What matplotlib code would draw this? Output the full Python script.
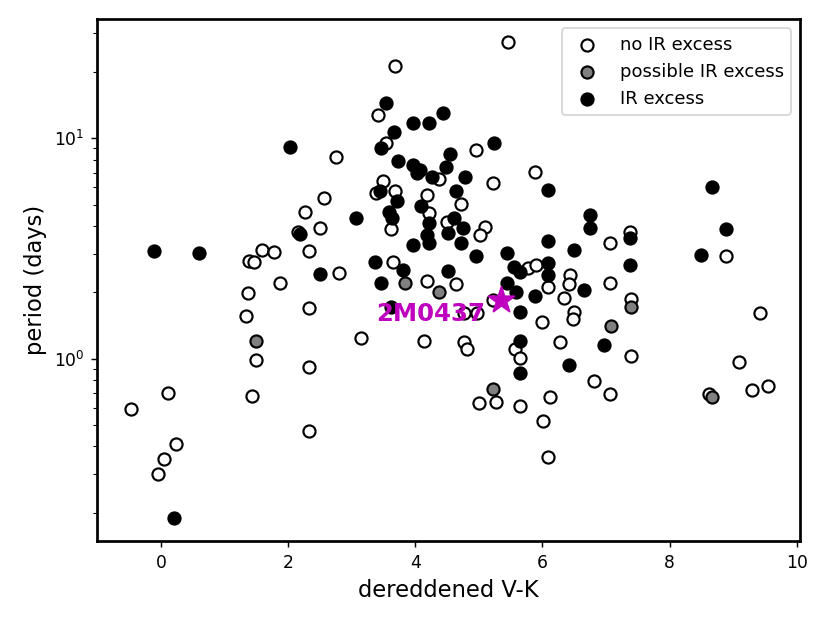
import numpy as np
import matplotlib
matplotlib.use('Agg')
import matplotlib.pyplot as plt

# ================================================================
# data
# ================================================================
# no IR excess (open circles)
noir_vk = [-0.47, 0.11, 0.24, 0.05, -0.04, 1.38, 1.46, 1.59, 1.78, 1.87,
           1.37, 1.34, 1.50, 1.43, 2.33, 2.33, 2.33, 3.14, 4.13, 4.18,
           4.64, 2.80, 3.65, 4.76, 4.82, 3.50, 3.39, 3.68, 3.62, 2.56,
           2.27, 2.50, 2.15, 2.33, 2.76, 3.68, 3.41, 3.54, 4.37, 4.95,
           4.19, 4.22, 4.72, 4.50, 5.10, 5.01, 5.78, 5.90, 6.08, 6.44,
           6.41, 6.34, 6.50, 6.48, 5.22, 4.76, 4.97, 5.99, 6.28, 5.57,
           5.65, 7.06, 7.39, 9.42, 7.39, 9.09, 6.81, 7.06, 8.62, 9.29,
           9.55, 5.00, 5.27, 5.65, 6.12, 6.01, 6.08, 5.46, 5.88, 5.23,
           7.06, 7.38, 8.88]
noir_per = [0.59, 0.70, 0.41, 0.35, 0.30, 2.77, 2.75, 3.13, 3.05, 2.20,
            1.98, 1.57, 0.99, 0.68, 1.70, 0.92, 0.47, 1.24, 1.20, 2.26,
            2.18, 2.44, 2.74, 1.19, 1.11, 6.40, 5.63, 5.77, 3.88, 5.34,
            4.62, 3.93, 3.77, 3.09, 8.20, 21.4, 12.8, 9.55, 6.51, 8.90,
            5.53, 4.57, 5.03, 4.19, 3.97, 3.64, 2.57, 2.66, 2.11, 2.40,
            2.18, 1.88, 1.63, 1.52, 1.85, 1.61, 1.62, 1.47, 1.19, 1.11,
            1.01, 2.21, 1.87, 1.62, 1.03, 0.97, 0.79, 0.69, 0.69, 0.72,
            0.75, 0.63, 0.64, 0.61, 0.67, 0.52, 0.36, 27.3, 7.05, 6.29,
            3.36, 3.77, 2.92]

# possible IR excess (grey)
poss_vk = [1.50, 3.84, 4.37, 5.22, 7.07, 7.39, 8.67]
poss_per = [1.20, 2.20, 2.01, 0.73, 1.41, 1.72, 0.67]

# IR excess (filled)
ir_vk = [0.20, -0.11, 0.60, 3.46, 3.62, 3.36, 3.80, 4.51, 3.07, 3.45,
         3.71, 3.58, 3.63, 2.18, 2.50, 2.03, 3.54, 3.96, 4.22, 4.44,
         3.67, 3.46, 3.73, 3.97, 4.02, 4.08, 4.26, 4.54, 4.48, 4.78,
         4.09, 4.64, 4.61, 4.21, 4.18, 4.21, 3.96, 4.51, 4.75, 4.72,
         4.96, 5.44, 5.56, 5.65, 6.08, 6.08, 6.08, 6.50, 6.65, 6.75,
         6.74, 5.44, 5.59, 5.88, 5.64, 5.65, 6.97, 6.41, 5.65, 5.24,
         6.08, 7.38, 7.38, 8.67, 8.88, 8.50]
ir_per = [0.19, 3.09, 3.03, 2.20, 1.72, 2.74, 2.53, 2.50, 4.34, 5.77,
          5.20, 4.65, 4.34, 3.67, 2.42, 9.16, 14.5, 11.7, 11.8, 13.1,
          10.7, 9.00, 7.89, 7.57, 6.94, 7.18, 6.70, 8.49, 7.39, 6.70,
          4.93, 5.77, 4.34, 4.14, 3.64, 3.34, 3.28, 3.73, 3.91, 3.34,
          2.92, 3.01, 2.61, 2.48, 3.43, 2.71, 2.40, 3.13, 2.06, 4.49,
          3.91, 2.20, 2.01, 1.92, 1.63, 1.21, 1.16, 0.94, 0.86, 9.50,
          5.83, 3.52, 2.66, 6.03, 3.88, 2.96]

# target star
star_name = '2M0437'
star_vk = 5.35
star_per = 1.85

# ================================================================
# plot
# ================================================================
fig = plt.figure(figsize=(830 / 130, 623 / 130), dpi=130)
ax = fig.add_axes([0.1172, 0.1316, 0.8467, 0.8374])

ax.scatter(noir_vk, noir_per, s=45, facecolor='white', edgecolor='black',
           linewidth=1.2, label='no IR excess', zorder=2)
ax.scatter(poss_vk, poss_per, s=45, facecolor='0.5', edgecolor='black',
           linewidth=1.2, label='possible IR excess', zorder=3)
ax.scatter(ir_vk, ir_per, s=45, facecolor='black', edgecolor='black',
           linewidth=1.2, label='IR excess', zorder=4)

ax.scatter([star_vk], [star_per], s=230, marker='*', color='m', zorder=6)
ax.text(star_vk - 0.25, star_per * 0.86, star_name, color='m',
        fontsize=13.5, fontweight='bold', ha='right', va='center', zorder=7)

ax.set_yscale('log')
ax.set_xlim(-1, 10.05)
ax.set_ylim(0.149, 34.7)
ax.set_xticks([0, 2, 4, 6, 8, 10])

ax.set_xlabel('dereddened V-K', fontsize=12.5)
ax.set_ylabel('period (days)', fontsize=12.5)
ax.tick_params(labelsize=9.5)
for sp in ax.spines.values():
    sp.set_linewidth(1.5)

ax.legend(loc='upper right', fontsize=10)

plt.savefig('out.png', dpi=130)
